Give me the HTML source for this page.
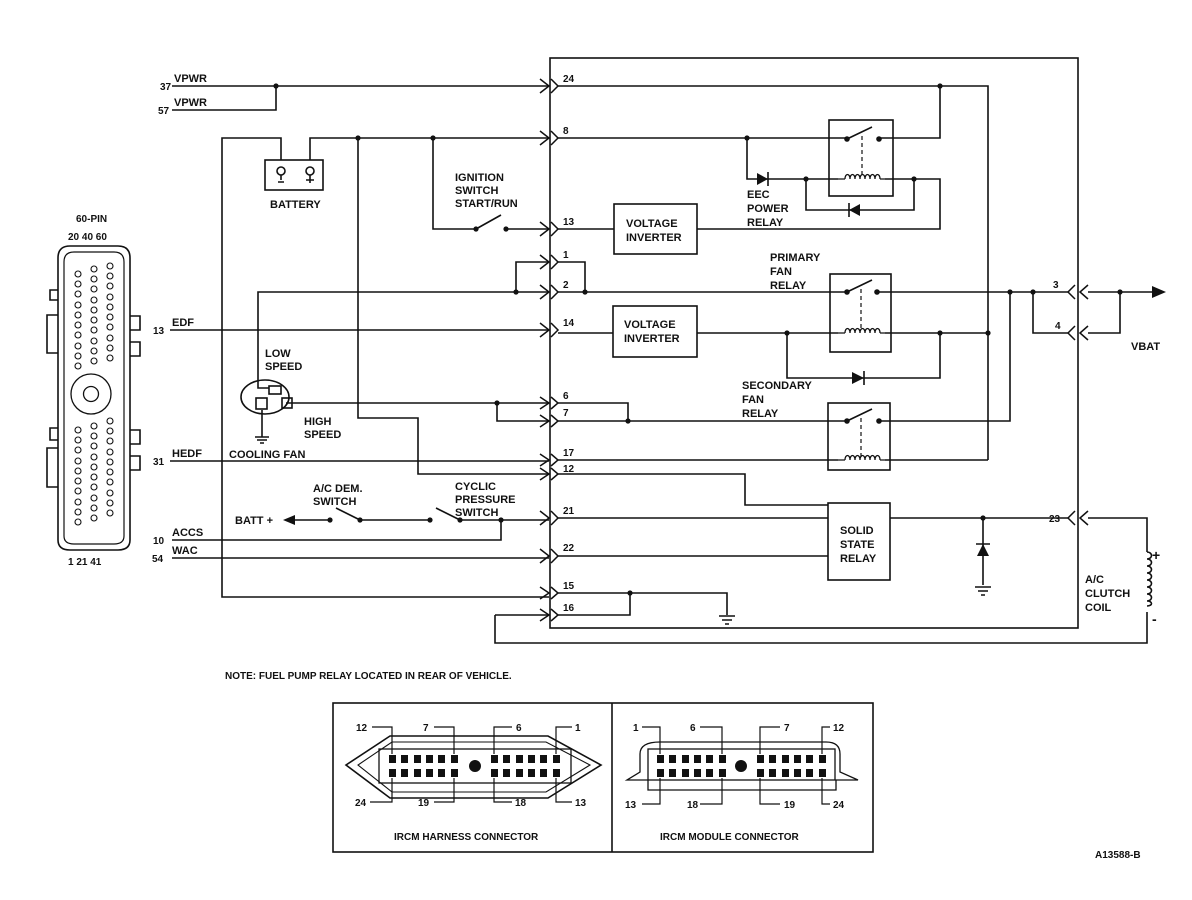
<!DOCTYPE html>
<html><head><meta charset="utf-8"><style>
html,body{margin:0;padding:0;background:#fff}
svg{display:block}
text{font-family:"Liberation Sans",Arial,sans-serif;font-size:11px;font-weight:bold;fill:#111}
.s{font-size:10px}
</style></head><body>
<svg width="1192" height="900" viewBox="0 0 1192 900" xmlns="http://www.w3.org/2000/svg">
<g stroke="#111" stroke-width="1.6" fill="none">
<rect x="550" y="58" width="528" height="570"/>
<g stroke-width="1.5">
<path d="M540,79 L549,86 L540,93 M551,79 L558,86 L551,93"/>
<path d="M540,131 L549,138 L540,145 M551,131 L558,138 L551,145"/>
<path d="M540,222 L549,229 L540,236 M551,222 L558,229 L551,236"/>
<path d="M540,255 L549,262 L540,269 M551,255 L558,262 L551,269"/>
<path d="M540,285 L549,292 L540,299 M551,285 L558,292 L551,299"/>
<path d="M540,323 L549,330 L540,337 M551,323 L558,330 L551,337"/>
<path d="M540,397 L549,403 L540,409 M551,397 L558,403 L551,409"/>
<path d="M540,415 L549,421 L540,427 M551,415 L558,421 L551,427"/>
<path d="M540,454 L549,460 L540,466 M551,454 L558,460 L551,466"/>
<path d="M540,468 L549,474 L540,480 M551,468 L558,474 L551,480"/>
<path d="M540,511 L549,518 L540,525 M551,511 L558,518 L551,525"/>
<path d="M540,549 L549,556 L540,563 M551,549 L558,556 L551,563"/>
<path d="M540,587 L549,593 L540,599 M551,587 L558,593 L551,599"/>
<path d="M540,609 L549,615 L540,621 M551,609 L558,615 L551,621"/>
<path d="M1075,285 L1068,292 L1075,299 M1088,285 L1080,292 L1088,299"/>
<path d="M1075,326 L1068,333 L1075,340 M1088,326 L1080,333 L1088,340"/>
<path d="M1075,511 L1068,518 L1075,525 M1088,511 L1080,518 L1088,525"/>
</g>
<path d="M172,86 H549 M276,86 V110 H172"/>
<path d="M310,160 V138 H549 M281,160 V138 H222 V597 H549"/>
<path d="M358,138 V418 H418 V474 H549"/>
<path d="M433,138 V229 H476 M506,229 H549 M476,229 L501,215"/>
<path d="M258,375 V292 H549 M516,292 V262 H549"/>
<path d="M170,330 H549"/>
<path d="M286,403 H549 M497,403 V421 H549"/>
<path d="M262,410 V437"/>
<path d="M255,437 H269 M257,440 H267 M260,443 H264"/>
<path d="M170,461 H549"/>
<path d="M295,520 H330 M360,520 L336,508 M360,520 H430 M460,520 L436,508 M460,520 H549 M501,520 V540 H172"/>
<path d="M172,558 H549"/>
<path d="M495,615 H549 M495,615 V643 H1147 V612 M1147,552 V518 H1088"/>
<path d="M1147,552 c6,0 6,7 0,7 c6,0 6,7 0,7 c6,0 6,7 0,7 c6,0 6,7 0,7 c6,0 6,7 0,7 c6,0 6,7 0,7 c6,0 6,7 0,7 c6,0 6,5 0,5"/>
<path d="M1088,292 H1152 M1120,292 V333 H1088"/>
<rect x="265" y="160" width="58" height="30"/>
<circle cx="281" cy="171" r="4"/><circle cx="310" cy="171" r="4"/>
<path d="M281,175 V180 M310,175 V183 M306,180 H314 M278,182 H284"/>
<ellipse cx="265" cy="397" rx="24" ry="17"/>
<rect x="269" y="386" width="12" height="8"/>
<rect x="256" y="398" width="11" height="11"/>
<rect x="282" y="398" width="10" height="10"/>
<path d="M258,375 V388 H269"/>
<path d="M558,86 H988 V460 M940,86 V138 H879"/>
<path d="M558,138 H847 M747,138 V179 H838 M806,179 V210 H914 V179 M885,179 H940 V229 H697 M558,229 H614"/>
<path d="M558,262 H585 V292 M558,292 H846 M877,292 H1068 M1010,292 V421 H879 M1033,292 V333 H1068"/>
<path d="M558,333 H613 M697,333 H838 M885,333 H988 M787,333 V378 H940 V333"/>
<path d="M558,403 H628 V421 M558,421 H847"/>
<path d="M558,460 H838 M885,460 H988"/>
<path d="M558,474 H745 V505 H828"/>
<path d="M558,518 H828 M558,556 H828 M890,518 H1068 M983,518 V585"/>
<path d="M975,587 H991 M978,591 H988 M981,595 H985"/>
<path d="M558,593 H727 V615 M558,615 H630 V593"/>
<path d="M719,616 H735 M722,620 H732 M725,624 H729"/>
<rect x="829" y="120" width="64" height="76"/>
<rect x="830" y="274" width="61" height="78"/>
<rect x="828" y="403" width="62" height="67"/>
<path d="M847,139 L872,127 M847,292 L872,280 M847,421 L872,409"/>
<path d="M862,136 V176 M861,289 V330 M861,418 V457" stroke-dasharray="4,3" stroke-width="1.2"/>
<g stroke-width="1.3">
<path d="M845,179 c0,-6 5,-6 5,0 c0,-6 5,-6 5,0 c0,-6 5,-6 5,0 c0,-6 5,-6 5,0 c0,-6 5,-6 5,0 c0,-6 5,-6 5,0 c0,-6 5,-6 5,0"/>
<path d="M845,333 c0,-6 5,-6 5,0 c0,-6 5,-6 5,0 c0,-6 5,-6 5,0 c0,-6 5,-6 5,0 c0,-6 5,-6 5,0 c0,-6 5,-6 5,0 c0,-6 5,-6 5,0"/>
<path d="M845,460 c0,-6 5,-6 5,0 c0,-6 5,-6 5,0 c0,-6 5,-6 5,0 c0,-6 5,-6 5,0 c0,-6 5,-6 5,0 c0,-6 5,-6 5,0 c0,-6 5,-6 5,0"/>
<path d="M838,179 H845 M880,179 H885 M838,333 H845 M880,333 H885 M838,460 H845 M880,460 H885"/>
</g>
<rect x="614" y="204" width="83" height="50"/>
<rect x="613" y="306" width="84" height="51"/>
<rect x="828" y="503" width="62" height="77"/>
<path d="M768,172 V186 M849,203 V217 M864,371 V385 M976,544 H990"/>
</g>
<g fill="#111">
<path d="M757,173 L768,179 L757,185Z"/>
<path d="M860,204 L849,210 L860,216Z"/>
<path d="M852,372 L864,378 L852,384Z"/>
<path d="M977,556 L983,544 L989,556Z"/>
<path d="M1152,286 L1166,292 L1152,298Z"/>
<path d="M283,520 L295,515 L295,525Z"/>
<g>
<circle cx="276" cy="86" r="2.6"/><circle cx="358" cy="138" r="2.6"/><circle cx="433" cy="138" r="2.6"/>
<circle cx="476" cy="229" r="2.6"/><circle cx="506" cy="229" r="2.6"/><circle cx="516" cy="292" r="2.6"/>
<circle cx="497" cy="403" r="2.6"/><circle cx="330" cy="520" r="2.6"/><circle cx="360" cy="520" r="2.6"/>
<circle cx="430" cy="520" r="2.6"/><circle cx="460" cy="520" r="2.6"/><circle cx="501" cy="520" r="2.6"/>
<circle cx="940" cy="86" r="2.6"/><circle cx="747" cy="138" r="2.6"/><circle cx="847" cy="139" r="2.8"/><circle cx="879" cy="139" r="2.8"/>
<circle cx="806" cy="179" r="2.6"/><circle cx="914" cy="179" r="2.6"/>
<circle cx="585" cy="292" r="2.6"/><circle cx="847" cy="292" r="2.8"/><circle cx="877" cy="292" r="2.8"/>
<circle cx="1010" cy="292" r="2.6"/><circle cx="1033" cy="292" r="2.6"/><circle cx="1120" cy="292" r="2.6"/>
<circle cx="787" cy="333" r="2.6"/><circle cx="940" cy="333" r="2.6"/><circle cx="988" cy="333" r="2.6"/>
<circle cx="628" cy="421" r="2.6"/><circle cx="847" cy="421" r="2.8"/><circle cx="879" cy="421" r="2.8"/>
<circle cx="983" cy="518" r="2.6"/><circle cx="630" cy="593" r="2.6"/>
</g>
</g>
<text x="160" y="90" class="s">37</text><text x="174" y="82">VPWR</text>
<text x="158" y="114" class="s">57</text><text x="174" y="106">VPWR</text>
<text x="153" y="334" class="s">13</text><text x="172" y="326">EDF</text>
<text x="153" y="465" class="s">31</text><text x="172" y="457">HEDF</text>
<text x="153" y="544" class="s">10</text><text x="172" y="536">ACCS</text>
<text x="152" y="562" class="s">54</text><text x="172" y="554">WAC</text>
<text x="270" y="208">BATTERY</text>
<text x="455" y="181">IGNITION</text><text x="455" y="194">SWITCH</text><text x="455" y="207">START/RUN</text>
<text x="265" y="357">LOW</text><text x="265" y="370">SPEED</text>
<text x="304" y="425">HIGH</text><text x="304" y="438">SPEED</text>
<text x="229" y="458">COOLING  FAN</text>
<text x="313" y="492">A/C DEM.</text><text x="313" y="505">SWITCH</text>
<text x="455" y="490">CYCLIC</text><text x="455" y="503">PRESSURE</text><text x="455" y="516">SWITCH</text>
<text x="235" y="524">BATT  +</text>
<text x="563" y="82" class="s">24</text><text x="563" y="134" class="s">8</text><text x="563" y="225" class="s">13</text>
<text x="563" y="258" class="s">1</text><text x="563" y="288" class="s">2</text><text x="563" y="326" class="s">14</text>
<text x="563" y="399" class="s">6</text><text x="563" y="416" class="s">7</text><text x="563" y="456" class="s">17</text>
<text x="563" y="472" class="s">12</text><text x="563" y="514" class="s">21</text><text x="563" y="551" class="s">22</text>
<text x="563" y="589" class="s">15</text><text x="563" y="611" class="s">16</text>
<text x="1053" y="288" class="s">3</text><text x="1055" y="329" class="s">4</text><text x="1049" y="522" class="s">23</text>
<text x="626" y="227">VOLTAGE</text><text x="626" y="241">INVERTER</text>
<text x="624" y="328">VOLTAGE</text><text x="624" y="342">INVERTER</text>
<text x="747" y="198">EEC</text><text x="747" y="212">POWER</text><text x="747" y="226">RELAY</text>
<text x="770" y="261">PRIMARY</text><text x="770" y="275">FAN</text><text x="770" y="289">RELAY</text>
<text x="742" y="389">SECONDARY</text><text x="742" y="403">FAN</text><text x="742" y="417">RELAY</text>
<text x="840" y="534">SOLID</text><text x="840" y="548">STATE</text><text x="840" y="562">RELAY</text>
<text x="1131" y="350">VBAT</text>
<text x="1085" y="583">A/C</text><text x="1085" y="597">CLUTCH</text><text x="1085" y="611">COIL</text>
<text x="1152" y="560" style="font-size:14px">+</text><text x="1152" y="624" style="font-size:14px">-</text>
<text x="76" y="222" class="s">60-PIN</text>
<text x="68" y="240" class="s">20  40  60</text>
<text x="68" y="565" class="s">1  21  41</text>
<g stroke="#111" fill="none" stroke-width="1.6">
<path d="M70,246 H118 Q130,246 130,258 V540 Q130,550 118,550 H70 Q58,550 58,540 V258 Q58,246 70,246Z"/>
<path d="M74,252 H114 Q124,252 124,262 V536 Q124,544 114,544 H74 Q64,544 64,536 V262 Q64,252 74,252Z" stroke-width="1.2"/>
<path d="M58,290 H50 V300 H58 M58,315 H47 V353 H58 M58,428 H50 V440 H58 M58,448 H47 V487 H58"/>
<path d="M130,316 H140 V330 H130 M130,342 H140 V356 H130 M130,430 H140 V444 H130 M130,456 H140 V470 H130"/>
<circle cx="91" cy="394" r="20" stroke-width="1.3"/><circle cx="91" cy="394" r="7.5" stroke-width="1.3"/>
</g>
<g stroke="#111" fill="none" stroke-width="1.1">
<g id="c1">
<circle cx="78" cy="274" r="3"/><circle cx="78" cy="284" r="3"/><circle cx="78" cy="294" r="3"/><circle cx="78" cy="305" r="3"/><circle cx="78" cy="315" r="3"/><circle cx="78" cy="325" r="3"/><circle cx="78" cy="335" r="3"/><circle cx="78" cy="346" r="3"/><circle cx="78" cy="356" r="3"/><circle cx="78" cy="366" r="3"/>
</g>
<use href="#c1" transform="translate(16,-5)"/><use href="#c1" transform="translate(32,-8)"/>
<use href="#c1" transform="translate(0,156)"/><use href="#c1" transform="translate(16,152)"/><use href="#c1" transform="translate(32,147)"/>
</g>
<text x="225" y="679" class="s">NOTE: FUEL PUMP RELAY LOCATED IN REAR OF VEHICLE.</text>
<g stroke="#111" fill="none" stroke-width="1.6">
<rect x="333" y="703" width="540" height="149"/>
<path d="M612,703 V852"/>
<path d="M390,736 H548 L601,765 L548,798 H390 L346,765Z"/>
<path d="M392,742 H546 L590,765 L546,792 H392 L358,765Z" stroke-width="1.1"/>
<rect x="379" y="749" width="192" height="34" stroke-width="1.3"/>
<path d="M660,742 H826 Q840,742 840,754 V772 L858,780 H836 V790 H648 V780 H627 L640,772 V754 Q640,742 660,742Z" stroke-width="1.3"/>
<rect x="648" y="749" width="187" height="31" stroke-width="1.3"/>
<g stroke-width="1.2">
<path d="M372,727 H392 V754 M434,727 H454 V754 M512,727 H494 V754 M572,727 H556 V754"/>
<path d="M370,802 H392 V778 M434,802 H454 V778 M512,802 H494 V778 M572,802 H556 V778"/>
<path d="M642,727 H660 V754 M700,727 H722 V754 M780,727 H760 V754 M830,727 H822 V754"/>
<path d="M642,804 H660 V778 M700,804 H722 V778 M780,804 H760 V778 M830,804 H822 V778"/>
</g>
</g>
<g fill="#111">
<g id="r6"><rect x="389" y="755" width="7" height="8"/><rect x="401" y="755" width="7" height="8"/><rect x="414" y="755" width="7" height="8"/><rect x="426" y="755" width="7" height="8"/><rect x="438" y="755" width="7" height="8"/><rect x="451" y="755" width="7" height="8"/></g>
<use href="#r6" transform="translate(0,14)"/>
<use href="#r6" transform="translate(102,0)"/><use href="#r6" transform="translate(102,14)"/>
<circle cx="475" cy="766" r="6"/>
<use href="#r6" transform="translate(268,0)"/><use href="#r6" transform="translate(268,14)"/>
<use href="#r6" transform="translate(368,0)"/><use href="#r6" transform="translate(368,14)"/>
<circle cx="741" cy="766" r="6"/>
</g>
<text x="356" y="731" class="s">12</text><text x="423" y="731" class="s">7</text><text x="516" y="731" class="s">6</text><text x="575" y="731" class="s">1</text>
<text x="355" y="806" class="s">24</text><text x="418" y="806" class="s">19</text><text x="515" y="806" class="s">18</text><text x="575" y="806" class="s">13</text>
<text x="633" y="731" class="s">1</text><text x="690" y="731" class="s">6</text><text x="784" y="731" class="s">7</text><text x="833" y="731" class="s">12</text>
<text x="625" y="808" class="s">13</text><text x="687" y="808" class="s">18</text><text x="784" y="808" class="s">19</text><text x="833" y="808" class="s">24</text>
<text x="394" y="840" class="s">IRCM HARNESS CONNECTOR</text>
<text x="660" y="840" class="s">IRCM MODULE CONNECTOR</text>
<text x="1095" y="858" class="s">A13588-B</text>
</svg>
</body></html>
